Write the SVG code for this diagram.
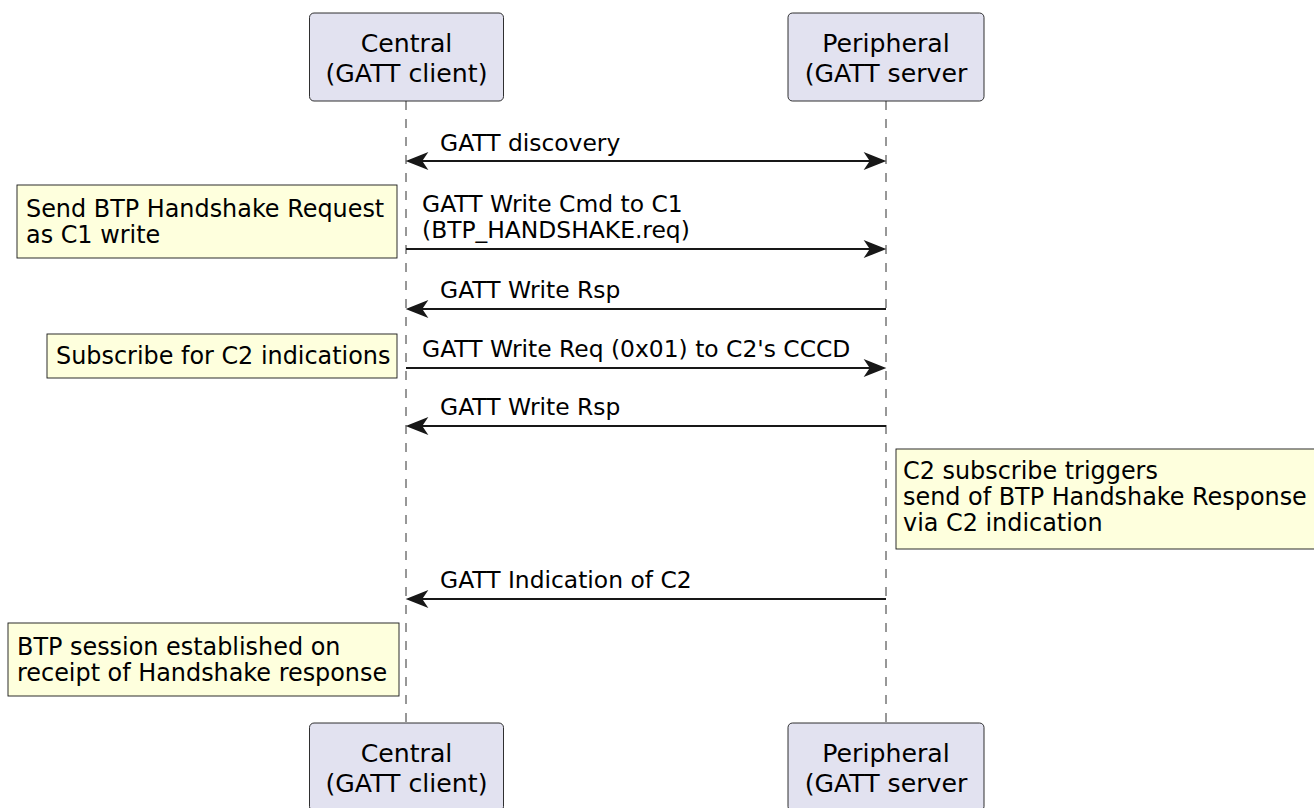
<svg xmlns="http://www.w3.org/2000/svg" width="1314" height="808" viewBox="0 0 1314 808">
<style>
.part rect{fill:#E2E2F0;stroke:#181818;stroke-width:0.9}
.part text{font-family:"DejaVu Sans",sans-serif;font-size:25.2px;fill:#000;text-anchor:middle}
.life{stroke:#181818;stroke-width:0.9;stroke-dasharray:9,9;fill:none}
.note rect{fill:#FEFFDD;stroke:#181818;stroke-width:0.9}
.note text{font-family:"DejaVu Sans",sans-serif;font-size:23.9px;fill:#000}
.msg{font-family:"DejaVu Sans",sans-serif;font-size:23.4px;fill:#000}
.arr{stroke:#181818;stroke-width:1.8;fill:none}
.head{fill:#181818;stroke:#181818;stroke-width:1.8}
</style>
<rect width="1314" height="808" fill="#fff"/>
<g id="lifelines">
<line class="life" x1="406" y1="101" x2="406" y2="723"/>
<line class="life" x1="886" y1="101" x2="886" y2="723"/>
</g>
<g id="central-top" class="part">
<rect x="309.5" y="13" width="194" height="88" rx="4.5"/>
<text x="406.5" y="52">Central</text>
<text x="406.5" y="82">(GATT client)</text>
</g>
<g id="peripheral-top" class="part">
<rect x="788" y="13" width="196" height="88" rx="4.5"/>
<text x="886" y="52">Peripheral</text>
<text x="886" y="82">(GATT server</text>
</g>
<g id="central-bottom" class="part">
<rect x="309.5" y="723" width="194" height="88" rx="4.5"/>
<text x="406.5" y="762">Central</text>
<text x="406.5" y="792">(GATT client)</text>
</g>
<g id="peripheral-bottom" class="part">
<rect x="788" y="723" width="196" height="88" rx="4.5"/>
<text x="886" y="762">Peripheral</text>
<text x="886" y="792">(GATT server</text>
</g>
<g id="connectors">
<line class="arr" x1="408" y1="161" x2="884" y2="161"/>
<polygon class="head" points="884,161 866,153.8 870.8,161 866,168.2"/>
<polygon class="head" points="408,161 426,153.8 421.2,161 426,168.2"/>
<text class="msg" x="440" y="151">GATT discovery</text>

<line class="arr" x1="406" y1="249" x2="884" y2="249"/>
<polygon class="head" points="884,249 866,241.8 870.8,249 866,256.2"/>
<text class="msg" x="422" y="212">GATT Write Cmd to C1</text>
<text class="msg" x="422" y="238">(BTP_HANDSHAKE.req)</text>

<line class="arr" x1="886" y1="309" x2="408" y2="309"/>
<polygon class="head" points="408,309 426,301.8 421.2,309 426,316.2"/>
<text class="msg" x="440" y="298">GATT Write Rsp</text>

<line class="arr" x1="406" y1="368" x2="884" y2="368"/>
<polygon class="head" points="884,368 866,360.8 870.8,368 866,375.2"/>
<text class="msg" x="422" y="357">GATT Write Req (0x01) to C2's CCCD</text>

<line class="arr" x1="886" y1="426" x2="408" y2="426"/>
<polygon class="head" points="408,426 426,418.8 421.2,426 426,433.2"/>
<text class="msg" x="440" y="415">GATT Write Rsp</text>

<line class="arr" x1="886" y1="599" x2="408" y2="599"/>
<polygon class="head" points="408,599 426,591.8 421.2,599 426,606.2"/>
<text class="msg" x="440" y="588">GATT Indication of C2</text>
</g>
<g id="note-handshake-request" class="note">
<rect x="17" y="185" width="380" height="73"/>
<text x="26" y="217">Send BTP Handshake Request</text>
<text x="26" y="243">as C1 write</text>
</g>
<g id="note-subscribe" class="note">
<rect x="47" y="334" width="350" height="44"/>
<text x="56" y="364">Subscribe for C2 indications</text>
</g>
<g id="note-c2-subscribe" class="note">
<rect x="896" y="449" width="424" height="100"/>
<text x="903" y="479">C2 subscribe triggers</text>
<text x="903" y="505">send of BTP Handshake Response</text>
<text x="903" y="531">via C2 indication</text>
</g>
<g id="note-session" class="note">
<rect x="8" y="623" width="391" height="73"/>
<text x="17" y="655">BTP session established on</text>
<text x="17" y="681">receipt of Handshake response</text>
</g>
</svg>
